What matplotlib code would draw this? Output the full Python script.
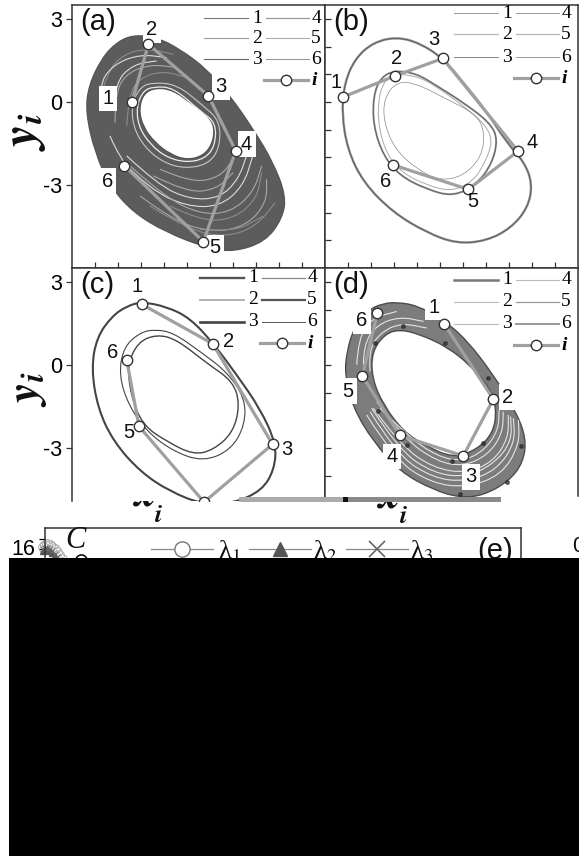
import matplotlib
matplotlib.use('Agg')
from matplotlib import pyplot as plt
from matplotlib.path import Path
from matplotlib.patches import PathPatch, Rectangle

plt.rcParams['font.family'] = ['Liberation Sans', 'DejaVu Sans']
plt.rcParams['mathtext.fontset'] = 'stix'

W, H = 579, 856

# (a) band edges, rings
a_outer_x = [-2.33, -1.32, -0.30, 0.86, 1.87, 2.88, 3.75, 4.30, 4.15, 3.40, 2.01, 0.86, -0.88, -2.33, -3.35, -4.00, -4.40, -4.28, -3.70, -3.06]
a_outer_y = [2.42, 2.33, 1.90, 1.18, 0.22, -0.99, -2.19, -3.40, -4.20, -5.05, -5.42, -5.27, -4.72, -4.00, -3.04, -1.83, -0.39, 0.58, 1.58, 2.15]
a_hole_x = [-1.32, -0.59, 0.13, 0.86, 1.20, 1.12, 0.71, -0.01, -0.74, -1.39, -1.90, -2.10, -1.88]
a_hole_y = [0.52, 0.42, -0.02, -0.45, -0.88, -1.50, -1.95, -2.10, -1.89, -1.47, -0.93, -0.27, 0.32]
a_ring_x = [-1.46, -0.59, 0.57, 1.26, 1.22, 0.78, -0.01, -0.88, -1.61, -2.12, -2.19, -1.90]
a_ring_y = [0.55, 0.52, -0.33, -0.75, -1.59, -2.05, -2.19, -2.01, -1.53, -0.87, -0.14, 0.40]
a_ring2_x = [-1.54, -0.45, 0.71, 1.43, 1.43, 0.93, -0.09, -1.03, -1.83, -2.33, -2.41, -2.04]
a_ring2_y = [0.70, 0.64, -0.14, -0.69, -1.65, -2.25, -2.41, -2.19, -1.65, -0.93, -0.08, 0.52]
a_arcs = [
    ([-2.77, -1.61, -0.01, 1.43, 2.45, 2.86], [-2.19, -3.16, -3.78, -3.78, -3.04, -1.95]),
    ([-2.04, -0.59, 1.14, 2.59, 3.46, 3.46], [-3.40, -4.30, -4.72, -4.48, -3.64, -2.80]),
    ([-3.78, -3.49, -2.77, -1.75, -0.59], [0.10, 1.06, 1.72, 1.93, 1.72]),
    ([-3.20, -3.13, -2.33, -1.32], [-0.27, 0.70, 1.36, 1.48]),
    ([-1.17, 0.13, 1.43, 2.01], [-2.43, -2.92, -2.73, -2.07]),
    ([-0.74, 0.57, 2.01, 3.03, 3.25], [-3.76, -4.30, -4.24, -3.52, -2.55]),
    ([-2.62, -1.30, 0.13, 1.43, 2.23, 2.59], [-1.95, -2.98, -3.53, -3.47, -2.80, -1.95]),
    ([-2.48, -1.03, 0.57, 1.87, 2.88, 3.25], [-2.31, -3.40, -4.06, -4.00, -3.28, -2.31]),
    ([-1.61, -0.01, 1.72, 3.03, 3.83], [-3.76, -4.60, -4.90, -4.48, -3.64]),
    ([-3.64, -3.86, -3.20, -2.04, -0.88], [-0.27, 0.58, 1.36, 1.72, 1.60]),
    ([-3.13, -3.13, -2.70, -1.61, -0.45], [-0.75, 0.22, 1.00, 1.36, 1.24]),
    ([-2.62, -2.55, -2.04, -1.03, -0.01], [-0.87, 0.22, 0.88, 1.12, 0.88]),
    ([-3.35, -2.91, -2.04], [-1.23, -2.07, -2.80]),
    ([-1.46, -0.01, 1.29, 2.01], [-2.67, -3.28, -3.16, -2.55]),
    ([0.57, 2.01, 3.32], [-4.60, -4.72, -4.12]),
]
a_px = [-2.39, -1.68, 0.93, 2.12, 0.71, -2.72]
a_py = [0.00, 2.08, 0.22, -1.77, -5.05, -2.31]
a_lx = [-3.43, -1.54, 1.48, 2.59, 1.22, -3.47]
a_ly = [0.12, 2.60, 0.54, -1.53, -5.27, -2.86]

# (b) loops
b_outer_x = [-1.88, -0.87, 0.14, 1.01, 1.96, 2.90, 3.68, 4.02, 3.82, 3.10, 2.03, 0.72, -0.58, -2.03, -3.33, -4.03, -4.27, -4.15, -3.68, -2.90]
b_outer_y = [2.35, 2.12, 1.57, 0.70, -0.27, -1.47, -2.19, -2.98, -3.82, -4.55, -5.02, -5.12, -4.72, -4.00, -2.92, -1.71, -0.39, 0.70, 1.58, 2.15]
b_mid_x = [-1.96, -1.01, -0.14, 1.01, 2.17, 2.52, 2.25, 1.59, 0.58, -0.58, -1.74, -2.46, -2.90, -2.90, -2.58]
b_mid_y = [1.14, 1.02, 0.58, -0.02, -0.75, -1.35, -2.25, -2.98, -3.42, -3.16, -2.67, -1.95, -0.87, 0.22, 0.88]
b_mid2_x = [-1.96, -0.87, 0.00, 1.01, 1.96, 2.30, 1.96, 1.45, 0.51, -0.58, -1.67, -2.32, -2.68, -2.68, -2.39]
b_mid2_y = [1.03, 0.90, 0.46, -0.14, -0.81, -1.41, -2.19, -2.86, -3.24, -3.01, -2.55, -1.89, -0.87, 0.16, 0.80]
b_in_x = [-1.88, -1.01, 0.29, 1.59, 1.95, 1.80, 1.01, 0.00, -1.01, -1.96, -2.44, -2.44]
b_in_y = [0.74, 0.66, 0.10, -0.45, -1.11, -2.00, -2.68, -2.85, -2.43, -1.71, -0.75, 0.12]
b_px = [-4.20, -1.96, 0.12, 3.39, 1.23, -2.03]
b_py = [0.18, 0.94, 1.57, -1.78, -3.16, -2.28]
b_lx = [-4.54, -1.88, -0.25, 3.99, 1.42, -2.35]
b_ly = [0.70, 1.57, 2.24, -1.47, -3.60, -2.86]

# (c) three loops
c_outer_x = [-1.97, -0.88, 0.13, 1.14, 2.16, 3.17, 3.88, 3.80, 3.25, 2.01, 0.71, -0.74, -2.04, -3.20, -3.88, -4.16, -3.92, -3.26, -2.62]
c_outer_y = [2.28, 2.10, 1.69, 0.78, -0.36, -1.57, -2.85, -3.78, -4.55, -5.00, -5.05, -4.58, -3.86, -2.77, -1.57, -0.12, 1.00, 1.76, 2.12]
c_mid_x = [-1.39, -0.59, 0.57, 1.72, 2.52, 2.52, 1.92, 0.71, -0.59, -1.75, -2.55, -2.96, -2.76, -2.04]
c_mid_y = [1.28, 1.16, 0.48, -0.24, -1.20, -2.17, -3.07, -3.50, -3.13, -2.41, -1.45, -0.36, 0.64, 1.17]
c_in_x = [-1.32, -0.45, 0.86, 2.01, 2.30, 2.00, 1.14, 0.28, -0.88, -1.94, -2.45, -2.58, -2.14]
c_in_y = [1.10, 0.92, 0.06, -0.60, -1.45, -2.45, -3.08, -3.25, -2.77, -2.17, -1.08, 0.00, 0.82]
c_px = [-1.97, 1.12, 3.72, 0.74, -2.09, -2.62]
c_py = [2.19, 0.76, -2.87, -4.96, -2.22, 0.18]
c_lx = [-2.16, 1.81, 4.36, -2.52, -3.25]
c_ly = [2.83, 0.84, -3.05, -2.45, 0.46]
c_labels = ['1', '2', '3', '5', '6']

# (d) band edges, arcs, dark spots
d_outer_x = [-1.88, -1.01, 0.14, 1.16, 2.32, 3.28, 3.75, 3.62, 3.00, 1.88, 0.87, -0.29, -1.74, -2.90, -3.77, -4.14, -4.05, -3.76, -3.10, -2.46]
d_outer_y = [2.26, 2.15, 1.63, 0.90, -0.36, -1.65, -2.65, -3.52, -4.20, -4.72, -4.80, -4.52, -3.86, -2.77, -1.57, -0.36, 0.48, 1.30, 2.00, 2.22]
d_hole_x = [-1.74, -0.87, 0.29, 1.30, 2.17, 2.46, 2.32, 1.59, 0.58, -0.58, -1.59, -2.46, -2.96, -2.96, -2.39]
d_hole_y = [1.28, 1.10, 0.66, 0.00, -0.84, -1.57, -2.46, -3.07, -3.36, -2.95, -2.41, -1.45, -0.48, 0.48, 1.12]
d_arcs = [
    ([-2.90, -1.74, -0.29, 1.16, 2.32, 2.97, 2.97], [-1.57, -2.89, -3.73, -3.92, -3.49, -2.65, -1.81]),
    ([-2.75, -1.59, -0.14, 1.01, 2.10, 2.72, 2.75], [-1.33, -2.65, -3.49, -3.67, -3.25, -2.47, -1.69]),
    ([-3.04, -1.88, -0.29, 1.16, 2.46, 3.26, 3.19], [-1.69, -3.25, -4.10, -4.22, -3.80, -2.83, -1.93]),
    ([-3.33, -3.33, -2.75, -1.74, -0.72], [0.00, 0.72, 1.45, 1.74, 1.57]),
    ([-3.62, -3.55, -2.97, -1.88], [0.00, 0.96, 1.69, 1.93]),
    ([-2.61, -1.45, -0.14, 1.01, 1.96, 2.54, 2.57], [-1.57, -2.53, -3.31, -3.49, -3.07, -2.35, -1.63]),
    ([-3.19, -1.96, -0.36, 1.16, 2.68, 3.45, 3.41], [-1.81, -3.43, -4.28, -4.43, -3.98, -2.89, -1.99]),
    ([-2.97, -1.80, -0.29, 1.16, 2.39, 3.12, 3.07], [-1.57, -3.07, -3.92, -4.06, -3.55, -2.75, -1.87]),
    ([-3.04, -3.12, -2.54, -1.67, -0.58], [-0.24, 0.54, 1.20, 1.51, 1.33]),
]
d_dots_x = [-1.59, 0.22, 2.10, 3.52, 1.88, 0.51, -1.45, -2.68, -2.83, 0.87, 2.90]
d_dots_y = [1.42, 0.78, -0.48, -2.95, -2.84, -3.49, -2.89, -1.65, 0.78, -4.67, -4.22]
d_px = [0.17, 2.32, 1.01, -1.74, -3.38, -2.72]
d_py = [1.49, -1.24, -3.29, -2.55, -0.40, 1.88]
d_lx = [-0.26, 2.94, 1.35, -2.07, -4.00, -3.41]
d_ly = [2.07, -1.17, -4.04, -3.31, -0.96, 1.59]

# (e) the part above the black block
e_c = [-0.05, 0.00, 0.05, 0.10, 0.15, 0.20, 0.25, 0.30, 0.35, 0.40, 0.45]
e_l1 = [16.2, 16.4, 16.5, 16.4, 16.2, 16.0, 15.7, 15.4, 15.0, 14.6, 14.1]
e_l2 = [15.8, 15.9, 15.9, 15.8, 15.6, 15.3, 15.0, 14.7, 14.3, 13.9, 13.4]
e_l3 = [16.0, 16.1, 16.1, 16.0, 15.8, 15.5, 15.2, 14.9, 14.5, 14.1, 13.6]

y_major = [3, 0, -3]
y_major_labels = ['3', '0', '-3']
y_all = [3, 2, 1, 0, -1, -2, -3, -4, -5]
x_all = [-4, -3, -2, -1, 0, 1, 2, 3, 4, 5]
legend_a = [('#777777', 0.8), ('#999999', 0.8), ('#666666', 0.8), ('#999999', 0.9), ('#aaaaaa', 0.8), ('#999999', 0.8)]
legend_b = [('#999999', 0.7), ('#bbbbbb', 1.0), ('#888888', 0.7), ('#999999', 0.7), ('#bbbbbb', 1.0), ('#999999', 0.7)]
legend_c = [('#555555', 1.7), ('#aaaaaa', 1.3), ('#444444', 1.9), ('#888888', 0.9), ('#555555', 1.6), ('#555555', 0.7)]
legend_d = [('#777777', 1.8), ('#bbbbbb', 0.8), ('#bbbbbb', 0.8), ('#bbbbbb', 0.8), ('#999999', 0.9), ('#999999', 1.4)]


def curve(xs, ys, closed=True):
    # quadratic pieces through the midpoints so the read points look smooth
    pts = list(zip(xs, ys))
    mid = lambda p, q: ((p[0] + q[0]) / 2, (p[1] + q[1]) / 2)
    if closed:
        verts = [mid(pts[-1], pts[0])]
        codes = [Path.MOVETO]
        for i in range(len(pts)):
            verts += [pts[i], mid(pts[i], pts[(i + 1) % len(pts)])]
            codes += [Path.CURVE3, Path.CURVE3]
    else:
        verts = [pts[0]]
        codes = [Path.MOVETO]
        for i in range(1, len(pts) - 1):
            verts += [pts[i], mid(pts[i], pts[i + 1])]
            codes += [Path.CURVE3, Path.CURVE3]
        verts.append(pts[-1])
        codes.append(Path.LINETO)
    return Path(verts, codes)


def line(ax, xs, ys, color, lw, closed=True, z=2):
    ax.add_patch(PathPatch(curve(xs, ys, closed), fc='none', ec=color, lw=lw, zorder=z))


def band(ax, ox, oy, hx, hy, color, edge):
    ax.add_patch(PathPatch(curve(ox, oy), fc=color, ec=edge, lw=1.0, zorder=1))
    ax.add_patch(PathPatch(curve(hx, hy), fc='white', ec=edge, lw=1.0, zorder=1.1))


def orbit(ax, px, py):
    ax.plot(px, py, color='#a0a0a0', lw=2.3, zorder=5, solid_capstyle='round')
    ax.plot(px, py, ls='none', marker='o', ms=7.5, mfc='white', mec='#333333', mew=1.0, zorder=6)


def numbers(ax, lx, ly, labels=None, box=False):
    labels = labels or ['1', '2', '3', '4', '5', '6']
    for x, y, s in zip(lx, ly, labels):
        kw = {'bbox': dict(fc='white', ec='none', pad=2.5)} if box else {}
        ax.text(x, y, s, fontsize=14.5, ha='center', va='center', color='#111111', zorder=4 if box else 7, **kw)


def frame(x0, y0, x1, y1, title, left_labels):
    ax = fig.add_axes([x0 / W, 1 - y1 / H, (x1 - x0) / W, (y1 - y0) / H])
    ax.set_xlim(-5, 6)
    ax.set_ylim(-6, 3.5)
    for s in ax.spines.values():
        s.set_linewidth(1.1)
        s.set_color('#333333')
    ax.set_xticks(x_all)
    ax.set_xticklabels([])
    ax.tick_params(axis='x', direction='in', length=4, width=0.9, color='#333333')
    if left_labels:
        ax.set_yticks(y_major)
        ax.set_yticklabels(y_major_labels, fontsize=15.5)
        ax.tick_params(axis='y', direction='out', length=4, width=0.9, pad=3, color='#333333')
    else:
        ax.set_yticks(y_all)
        ax.set_yticklabels([])
        ax.tick_params(axis='y', direction='in', length=4, width=0.9, color='#333333')
    ax.text(-4.65, 2.87, title, fontsize=21, ha='left', va='center', color='#111111', zorder=8)
    return ax


def key(x0, rows, styles):
    for r, (a, b) in zip(rows, [(0, 3), (1, 4), (2, 5)]):
        c1, w1 = styles[a]
        c2, w2 = styles[b]
        page.plot([x0, x0 + 44], [r, r], color=c1, lw=w1)
        page.plot([x0 + 62, x0 + 105], [r, r], color=c2, lw=w2)
        page.text(x0 + 53, r, str(a + 1), family='Liberation Serif', fontsize=14, ha='center', va='center')
        page.text(x0 + 112, r, str(b + 1), family='Liberation Serif', fontsize=14, ha='center', va='center')
    r = rows[3]
    page.plot([x0 + 60, x0 + 104], [r, r], color='#a0a0a0', lw=2.3)
    page.plot([x0 + 82], [r], ls='none', marker='o', ms=7.5, mfc='white', mec='#333333', mew=1.0)
    page.text(x0 + 110, r, 'i', family='Liberation Serif', style='italic', weight='bold', fontsize=14, ha='center', va='center')


fig = plt.figure(figsize=(W / 100, H / 100), dpi=100)

ax_a = frame(72, 5, 325, 268, '(a)', True)
ax_b = frame(325, 5, 578, 268, '(b)', False)
ax_c = frame(72, 268, 325, 501, '(c)', True)
ax_d = frame(325, 268, 578, 501, '(d)', False)
for ax in (ax_c, ax_d):
    ax.set_ylim(-4.92, 3.5)
    ax.spines['bottom'].set_visible(False)
    ax.tick_params(axis='x', length=0)
ax_d.set_yticks([3, 2, 1, 0, -1, -2, -3, -4])
ax_d.spines['right'].set_bounds(-4.75, 3.5)

band(ax_a, a_outer_x, a_outer_y, a_hole_x, a_hole_y, '#5c5c5c', '#555555')
for i, (xs, ys) in enumerate(a_arcs):
    line(ax_a, xs, ys, ['#dddddd', '#a8a8a8', '#8c8c8c'][i % 3], 0.8, closed=False)
line(ax_a, a_ring_x, a_ring_y, '#eeeeee', 0.9)
line(ax_a, a_ring2_x, a_ring2_y, '#c8c8c8', 0.8)
orbit(ax_a, a_px, a_py)
numbers(ax_a, a_lx, a_ly, box=True)

line(ax_b, b_outer_x, b_outer_y, '#8c8c8c', 1.7)
line(ax_b, b_outer_x, b_outer_y, '#555555', 0.5, z=2.1)
line(ax_b, b_mid_x, b_mid_y, '#8c8c8c', 1.4)
line(ax_b, b_mid_x, b_mid_y, '#555555', 0.4, z=2.1)
line(ax_b, b_mid2_x, b_mid2_y, '#aaaaaa', 0.7)
line(ax_b, b_in_x, b_in_y, '#888888', 0.5)
orbit(ax_b, b_px, b_py)
numbers(ax_b, b_lx, b_ly)

line(ax_c, c_outer_x, c_outer_y, '#444444', 1.5)
line(ax_c, c_mid_x, c_mid_y, '#444444', 0.8)
line(ax_c, c_in_x, c_in_y, '#444444', 1.0)
orbit(ax_c, c_px, c_py)
numbers(ax_c, c_lx, c_ly, labels=c_labels)

band(ax_d, d_outer_x, d_outer_y, d_hole_x, d_hole_y, '#7c7c7c', '#4c4c4c')
for xs, ys in d_arcs:
    line(ax_d, xs, ys, '#e4e4e4', 0.8, closed=False)
ax_d.plot(d_dots_x, d_dots_y, ls='none', marker='o', ms=2.5, color='#2a2a2a', alpha=0.7, zorder=3)
orbit(ax_d, d_px, d_py)
numbers(ax_d, d_lx, d_ly, box=True)

# lambda panel, cut off by the black block
ax_e = fig.add_axes([45 / W, 1 - 850 / H, 476 / W, 322 / H])
ax_e.set_xlim(0, 10)
ax_e.set_ylim(-14.1, 18.1)
for s in ax_e.spines.values():
    s.set_linewidth(1.1)
    s.set_color('#333333')
ax_e.set_xticks([])
ax_e.set_yticks([16])
ax_e.set_yticklabels(['16'], fontsize=15.5, va='center')
ax_e.set_yticks([17], minor=True)
ax_e.tick_params(axis='y', which='both', direction='out', length=4, width=0.9, pad=3)
ax_e.plot(e_c, e_l1, ls='none', marker='o', ms=7, mfc='none', mec='#aaaaaa', mew=0.7, clip_on=False)
ax_e.plot(e_c, e_l2, ls='none', marker='^', ms=4.5, color='#555555', clip_on=False)
ax_e.plot(e_c, e_l3, ls='none', marker='x', ms=5, color='#666666', mew=0.7, clip_on=False)
ax_e.plot([0.76], [14.9], ls='none', marker='o', ms=8, mfc='white', mec='#111111', mew=1.2)

# axis labels sit under the panels so their tops get cut like the original
fig.text(25 / W, 1 - 132 / H, r'$\mathbfit{y}_{\mathbfit{i}}$', fontsize=36, rotation=90, ha='center', va='center', color='#111111', zorder=-1)
fig.text(27 / W, 1 - 389 / H, r'$\mathbfit{y}_{\mathbfit{i}}$', fontsize=33, rotation=90, ha='center', va='center', color='#111111', zorder=-1)
fig.text(144 / W, 1 - 505 / H, r'$\mathbfit{x}$', fontsize=32, ha='center', va='baseline', color='#111111', zorder=-1)
fig.text(158 / W, 1 - 522 / H, r'$\mathbfit{i}$', fontsize=19, ha='center', va='baseline', color='#111111', zorder=-1)
fig.text(388 / W, 1 - 508 / H, r'$\mathbfit{x}$', fontsize=32, ha='center', va='baseline', color='#111111', zorder=-1)
fig.text(403 / W, 1 - 523 / H, r'$\mathbfit{i}$', fontsize=19, ha='center', va='baseline', color='#111111', zorder=-1)

page = fig.add_axes([0, 0, 1, 1], zorder=5)
page.set_xlim(0, W)
page.set_ylim(H, 0)
page.axis('off')
page.patch.set_alpha(0)

key(204, [18, 38, 59, 80], legend_a)
key(454, [13, 34, 57, 78], legend_b)
key(200, [278, 300, 322, 343], legend_c)
key(454, [280, 302, 324, 345], legend_d)

page.add_patch(Rectangle((239, 497), 104, 4.5, fc='#ababab', ec='none'))
page.add_patch(Rectangle((343, 497), 4.5, 4.5, fc='#111111', ec='none'))
page.add_patch(Rectangle((347.5, 497), 153.5, 4.5, fc='#8a8a8a', ec='none'))

page.text(75, 540, 'C', family='Liberation Serif', style='italic', fontsize=22, ha='center', va='center', color='#111111')
page.text(495, 551, '(e)', fontsize=21, ha='center', va='center', color='#111111')
for x, s in zip([182, 280, 377], ['o', '^', 'x']):
    page.plot([x - 31, x + 31], [549, 549], color='#888888', lw=0.9)
    if s == 'o':
        page.plot([x], [549], marker='o', ms=11, mfc='white', mec='#777777', mew=1.0)
    elif s == '^':
        page.plot([x], [549], marker='^', ms=10, color='#555555')
    else:
        page.plot([x], [549], marker='x', ms=12, mec='#666666', mew=1.2)
for x, s in zip([229, 325, 422], ['1', '2', '3']):
    page.text(x, 551, '\u03bb$_{' + s + '}$', family='Liberation Serif', fontsize=19, ha='center', va='center', color='#111111')
page.text(572, 546, '0', fontsize=15.5, ha='left', va='center', color='#111111', clip_on=True)

page.add_patch(Rectangle((9, 558), 570, 298, fc='black', ec='none', zorder=10))

fig.savefig('out.png', dpi=100)
